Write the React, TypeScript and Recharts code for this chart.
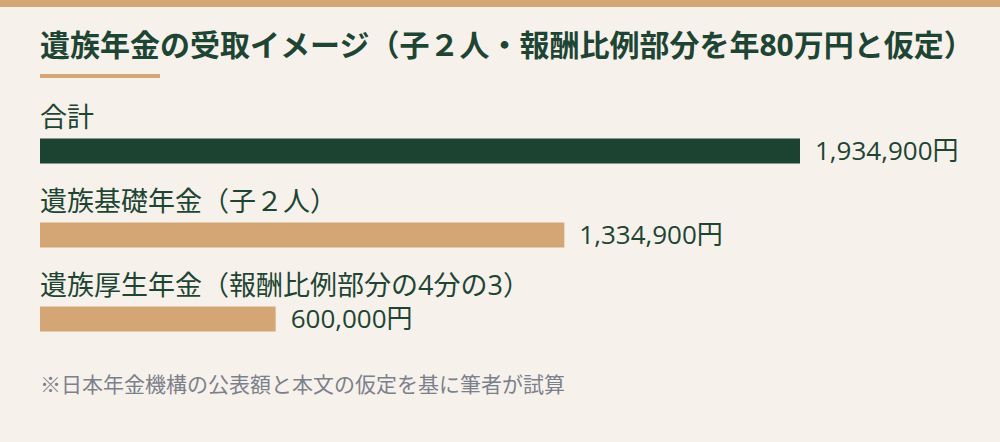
import React from "react";
import { Bar, BarChart, Cell, LabelList, XAxis, YAxis } from "recharts";

const TITLE = "遺族年金の受取イメージ（子２人・報酬比例部分を年80万円と仮定）";
const NOTE = "※日本年金機構の公表額と本文の仮定を基に筆者が試算";

const categories = ["合計", "遺族基礎年金（子２人）", "遺族厚生年金（報酬比例部分の4分の3）"];
const amounts = [1934900, 1334900, 600000];
const barColors = ["#1c4331", "#d4a575", "#d4a575"];

const BG = "#f6f2eb";
const ORANGE = "#d4a575";
const INK = "#1e4534";
const FONT = '"Open Sans", "Noto Sans CJK JP", sans-serif';

const rows = categories.map((name, i) => ({ name, value: amounts[i] }));

// category name drawn above each bar
const NameLabel = (props: any) => {
  const { y, value } = props;
  return (
    <text x={40} y={y - 12} fill={INK} fontSize={27} fontFamily={FONT} textAnchor="start">
      {value}
    </text>
  );
};

export default function App() {
  return (
    <div style={{ position: "relative", width: 1000, height: 442, background: BG, fontFamily: FONT, overflow: "hidden" }}>
      <style>{`body{margin:0}`}</style>
      <div style={{ position: "absolute", left: 0, top: 0, width: 1000, height: 7, background: ORANGE }} />
      <div style={{ position: "absolute", left: 40, top: 26, fontSize: 30, fontWeight: 700, color: INK, whiteSpace: "nowrap", lineHeight: "38px" }}>
        {TITLE}
      </div>
      <div style={{ position: "absolute", left: 40, top: 74, width: 120, height: 4, background: ORANGE }} />
      <div style={{ position: "absolute", left: 0, top: 0 }}>
        <BarChart
          width={1000}
          height={442}
          data={rows}
          layout="vertical"
          margin={{ top: 108.5, right: 200, bottom: 81.5, left: 40 }}
          barCategoryGap={0}
        >
          <XAxis type="number" domain={[0, 1934900]} hide />
          <YAxis type="category" dataKey="name" hide />
          <Bar dataKey="value" barSize={25} isAnimationActive={false}>
            {rows.map((r, i) => (
              <Cell key={r.name} fill={barColors[i]} />
            ))}
            <LabelList dataKey="name" content={<NameLabel />} />
            <LabelList
              dataKey="value"
              position="right"
              offset={15}
              fill={INK}
              fontSize={26}
              fontFamily={FONT}
              formatter={(v: any) => `${Number(v).toLocaleString("en-US")}円`}
            />
          </Bar>
        </BarChart>
      </div>
      <div style={{ position: "absolute", left: 40, top: 369, fontSize: 21, color: "#7c808c", whiteSpace: "nowrap", lineHeight: "30px" }}>
        {NOTE}
      </div>
    </div>
  );
}
